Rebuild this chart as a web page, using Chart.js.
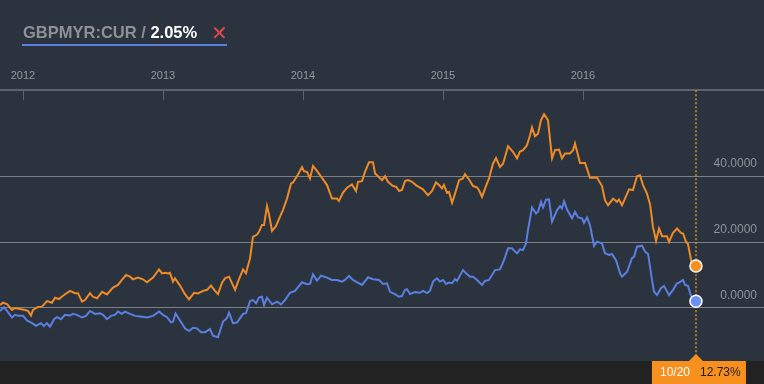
<!DOCTYPE html>
<html>
<head>
<meta charset="utf-8">
<script src="https://cdn.jsdelivr.net/npm/chart.js@4"></script>
<style>
  html, body { margin: 0; padding: 0; background: #2b333e; }
  #wrap { position: relative; width: 764px; height: 384px; }
  #legend {
    position: absolute; left: 22px; top: 23px; width: 205px;
    font: bold 16.5px "Liberation Sans", Arial, sans-serif; line-height: 18px;
    padding-bottom: 3px; border-bottom: 2px solid #5b7fe0; white-space: nowrap;
  }
  #legend .sym { color: #8e9297; padding-left: 1px; }
  #legend .pct { color: #ffffff; }
  #legend .x { color: #e2474b; font: 20px "DejaVu Sans", sans-serif; position: absolute; left: 189px; top: -2px; }
</style>
</head>
<body>
<div id="wrap">
  <canvas id="chart" width="764" height="384"></canvas>
  <div id="legend"><span class="sym">GBPMYR:CUR / </span><span class="pct">2.05%</span><span class="x">✕</span></div>
</div>
<script>
// dates as decimal years, values as % change since start
const mainDates = [2011.836, 2011.857, 2011.886, 2011.922, 2011.943, 2011.979, 2012.015, 2012.036, 2012.057, 2012.072,
  2012.107, 2012.136, 2012.172, 2012.207, 2012.229, 2012.257, 2012.286, 2012.336, 2012.372, 2012.393,
  2012.422, 2012.443, 2012.479, 2012.500, 2012.529, 2012.565, 2012.600, 2012.643, 2012.679, 2012.707,
  2012.736, 2012.765, 2012.786, 2012.822, 2012.857, 2012.886, 2012.929, 2012.972, 2012.993, 2013.015,
  2013.036, 2013.050, 2013.072, 2013.086, 2013.122, 2013.157, 2013.186, 2013.222, 2013.250, 2013.286,
  2013.315, 2013.343, 2013.372, 2013.393, 2013.422, 2013.443, 2013.472, 2013.515, 2013.536, 2013.572,
  2013.593, 2013.622, 2013.643, 2013.672, 2013.686, 2013.707, 2013.722, 2013.743, 2013.757, 2013.779,
  2013.807, 2013.836, 2013.857, 2013.886, 2013.915, 2013.929, 2013.965, 2013.993, 2014.007, 2014.029,
  2014.050, 2014.072, 2014.100, 2014.136, 2014.172, 2014.207, 2014.243, 2014.257, 2014.286, 2014.315,
  2014.350, 2014.379, 2014.393, 2014.422, 2014.443, 2014.472, 2014.500, 2014.515, 2014.536, 2014.565,
  2014.586, 2014.607, 2014.643, 2014.665, 2014.686, 2014.707, 2014.729, 2014.750, 2014.779, 2014.807,
  2014.836, 2014.857, 2014.893, 2014.922, 2014.950, 2014.972, 2014.993, 2015.007, 2015.029, 2015.043,
  2015.065, 2015.086, 2015.115, 2015.143, 2015.157, 2015.186, 2015.215, 2015.243, 2015.257, 2015.279,
  2015.307, 2015.329, 2015.357, 2015.379, 2015.407, 2015.429, 2015.465, 2015.500, 2015.529, 2015.550,
  2015.572, 2015.600, 2015.622, 2015.636, 2015.657, 2015.679, 2015.700, 2015.722, 2015.750, 2015.779,
  2015.800, 2015.829, 2015.850, 2015.872, 2015.907, 2015.929, 2015.943, 2015.979, 2016.015, 2016.050,
  2016.100, 2016.136, 2016.157, 2016.179, 2016.215, 2016.243, 2016.257, 2016.279, 2016.300, 2016.329,
  2016.357, 2016.386, 2016.407, 2016.429, 2016.457, 2016.479, 2016.500, 2016.522, 2016.543, 2016.565,
  2016.600, 2016.615, 2016.643, 2016.672, 2016.700, 2016.715, 2016.736, 2016.750, 2016.779, 2016.807];
const mainChange = [0.9, 1.6, 1.2, -0.6, 0, -0.3, -0.6, -0.9, -2.3, -0.6,
  0.3, 0.4, 2.1, 1.6, 3.1, 2.7, 3.7, 5.2, 4.5, 4.5,
  1.9, 2.4, 4.5, 3.4, 2.9, 4.9, 4.1, 6.2, 7.0, 8.5,
  10.0, 9.5, 8.7, 9.2, 8.7, 7.8, 9.2, 11.7, 10.5, 10.7,
  10.5, 10.7, 8.0, 9.0, 6.8, 4.2, 2.6, 4.6, 4.4, 5.2,
  5.5, 6.8, 5.2, 4.2, 7.7, 9.0, 9.5, 5.5, 8.0, 11.7,
  10.5, 15.1, 21.6, 22.3, 23.1, 25.2, 25.2, 30.9, 28.5, 23.4,
  24.8, 27.7, 29.7, 33.2, 37.8, 38.1, 40.5, 42.8, 41.5, 41.3,
  39.3, 43.1, 41.6, 39.5, 37.3, 33.2, 33.2, 32.5, 35.0, 36.5,
  37.5, 35.5, 38.3, 38.5, 41.3, 44.2, 44.2, 40.8, 40.0, 38.8,
  40.0, 38.3, 37.0, 36.8, 35.5, 35.8, 38.5, 38.8, 38.3, 37.3,
  36.5, 36.0, 34.2, 35.5, 38.1, 37.3, 36.3, 37.3, 34.9, 35.2,
  31.9, 34.7, 38.8, 39.3, 40.6, 39.0, 37.0, 36.6, 35.8, 33.7,
  37.0, 39.3, 43.8, 45.5, 42.8, 43.8, 49.1, 47.4, 45.4, 47.5,
  47.9, 49.4, 52.4, 54.8, 52.1, 52.9, 57.0, 58.8, 57.0, 45.4,
  47.9, 48.1, 45.4, 46.9, 46.9, 47.9, 49.9, 44.0, 44.0, 39.5,
  39.6, 37.0, 32.7, 31.2, 33.2, 32.2, 32.9, 31.2, 33.2, 36.0,
  35.8, 40.0, 40.3, 37.3, 34.7, 31.5, 24.6, 20.4, 24.1, 21.8,
  21.8, 20.1, 22.8, 24.1, 22.8, 22.6, 20.1, 19.4, 13.0, 12.73];

const gbpmyrDates = [2011.836, 2011.865, 2011.886, 2011.922, 2011.943, 2011.965, 2012.000, 2012.029, 2012.065, 2012.093,
  2012.129, 2012.150, 2012.172, 2012.193, 2012.222, 2012.243, 2012.272, 2012.300, 2012.336, 2012.357,
  2012.386, 2012.422, 2012.450, 2012.479, 2012.515, 2012.550, 2012.572, 2012.600, 2012.629, 2012.657,
  2012.679, 2012.707, 2012.729, 2012.765, 2012.800, 2012.836, 2012.886, 2012.929, 2012.972, 2013.000,
  2013.029, 2013.057, 2013.072, 2013.090, 2013.122, 2013.157, 2013.186, 2013.215, 2013.243, 2013.272,
  2013.300, 2013.336, 2013.357, 2013.393, 2013.429, 2013.457, 2013.472, 2013.500, 2013.529, 2013.572,
  2013.593, 2013.622, 2013.643, 2013.665, 2013.686, 2013.707, 2013.722, 2013.743, 2013.779, 2013.815,
  2013.843, 2013.872, 2013.907, 2013.943, 2013.993, 2014.029, 2014.050, 2014.072, 2014.100, 2014.129,
  2014.172, 2014.207, 2014.243, 2014.279, 2014.300, 2014.329, 2014.357, 2014.422, 2014.465, 2014.500,
  2014.543, 2014.572, 2014.600, 2014.622, 2014.657, 2014.686, 2014.707, 2014.729, 2014.743, 2014.765,
  2014.800, 2014.836, 2014.857, 2014.886, 2014.907, 2014.929, 2014.957, 2014.979, 2015.000, 2015.022,
  2015.043, 2015.065, 2015.086, 2015.100, 2015.143, 2015.165, 2015.193, 2015.215, 2015.243, 2015.279,
  2015.300, 2015.329, 2015.372, 2015.407, 2015.436, 2015.465, 2015.493, 2015.515, 2015.529, 2015.550,
  2015.572, 2015.593, 2015.607, 2015.636, 2015.665, 2015.679, 2015.700, 2015.715, 2015.736, 2015.757,
  2015.779, 2015.815, 2015.836, 2015.850, 2015.865, 2015.886, 2015.922, 2015.943, 2015.965, 2015.993,
  2016.007, 2016.029, 2016.050, 2016.079, 2016.100, 2016.136, 2016.157, 2016.186, 2016.207, 2016.236,
  2016.265, 2016.279, 2016.315, 2016.350, 2016.365, 2016.386, 2016.422, 2016.443, 2016.465, 2016.493,
  2016.507, 2016.529, 2016.557, 2016.579, 2016.615, 2016.643, 2016.672, 2016.686, 2016.715, 2016.729,
  2016.750, 2016.772, 2016.807];
const gbpmyrChange = [-0.9, 0.2, -0.9, -2.9, -2.1, -2.4, -2.4, -3.8, -4.6, -5.4,
  -4.6, -5.5, -4.6, -5.7, -3.4, -2.8, -3.4, -2.1, -2.3, -1.8,
  -2.1, -2.9, -2.4, -0.9, -1.8, -1.6, -2.1, -3.4, -2.4, -2.1,
  -1.1, -1.8, -1.1, -1.8, -2.4, -2.6, -2.9, -2.4, -1.1, -2.1,
  -2.8, -4.4, -4.2, -1.7, -3.8, -6.2, -7.0, -6.0, -6.2, -7.4,
  -7.4, -6.4, -8.4, -8.9, -4.1, -3.1, -1.4, -4.6, -4.4, -1.8,
  -1.6, 2.1, 2.4, 1.4, 3.2, 3.4, 0.9, 3.1, 1.1, 1.9,
  1.1, 2.4, 4.6, 5.2, 7.8, 7.2, 7.3, 10.2, 8.3, 9.8,
  9.2, 8.5, 8.5, 8.0, 8.5, 9.7, 8.5, 7.0, 9.3, 8.7,
  8.5, 7.3, 7.5, 4.9, 4.2, 3.4, 3.6, 5.5, 5.7, 4.2,
  4.8, 4.6, 5.2, 4.5, 5.2, 8.0, 9.0, 8.0, 8.5, 7.3,
  7.7, 7.5, 8.8, 8.2, 11.5, 10.5, 9.5, 9.5, 8.5, 7.0,
  8.2, 8.5, 11.5, 11.7, 14.5, 18.1, 18.1, 17.1, 16.6, 17.8,
  17.6, 19.6, 23.6, 30.5, 28.7, 29.2, 32.2, 30.5, 32.9, 33.0,
  26.2, 29.7, 30.9, 30.2, 32.4, 29.9, 27.2, 29.2, 27.5, 27.2,
  25.8, 27.5, 25.2, 18.8, 20.1, 19.6, 16.6, 16.1, 16.4, 14.5,
  10.5, 9.5, 11.0, 15.1, 15.6, 18.6, 18.9, 17.1, 16.4, 8.5,
  5.0, 3.9, 6.0, 6.7, 3.9, 5.5, 7.5, 7.7, 8.5, 7.0,
  6.7, 3.6, 2.05];

const yearTicks = [2012, 2013, 2014, 2015, 2016];
const valueTicks = [0, 20, 40];
const lastDateLabel = '10/20';

const ORANGE = '#ee8b25';
const BLUE = '#5a7fe0';

function pts(xs, ys) { return xs.map((x, i) => ({ x: x, y: ys[i] })); }
function endOnly(n, r) { return ctx => ctx.dataIndex === n - 1 ? r : 0; }

const crosshair = {
  id: 'crosshair',
  beforeDraw(chart) {
    const { ctx, chartArea } = chart;
    ctx.save();
    ctx.fillStyle = '#222222';
    ctx.fillRect(0, chartArea.bottom, chart.width, chart.height - chartArea.bottom);
    ctx.restore();
  },
  beforeDatasetsDraw(chart) {
    const { ctx, chartArea } = chart;
    const xs = chart.scales.x;
    const px = xs.getPixelForValue(mainDates[mainDates.length - 1]);
    ctx.save();
    // year ticks hanging under the top axis
    ctx.strokeStyle = '#5c636b';
    ctx.lineWidth = 1;
    yearTicks.forEach(v => {
      const x = Math.round(xs.getPixelForValue(v)) + 0.5;
      ctx.beginPath(); ctx.moveTo(x, chartArea.top); ctx.lineTo(x, chartArea.top + 10); ctx.stroke();
    });
    ctx.strokeStyle = 'rgba(240,150,40,0.65)';
    ctx.lineWidth = 2;
    ctx.setLineDash([2, 2]);
    ctx.beginPath(); ctx.moveTo(px, chartArea.top); ctx.lineTo(px, chartArea.bottom - 6); ctx.stroke();
    ctx.restore();
  },
  afterDraw(chart) {
    const { ctx, chartArea } = chart;
    const px = chart.scales.x.getPixelForValue(mainDates[mainDates.length - 1]);
    const b = chartArea.bottom;
    ctx.save();
    ctx.fillStyle = '#f7901e';
    ctx.beginPath(); ctx.moveTo(px - 7, b); ctx.lineTo(px, b - 7); ctx.lineTo(px + 7, b); ctx.closePath(); ctx.fill();
    ctx.fillRect(px - 44, b, 94, chart.height - b);
    ctx.font = '12px "Liberation Sans", Arial, sans-serif';
    ctx.textBaseline = 'middle';
    ctx.fillStyle = '#ffffff';
    ctx.fillText(lastDateLabel, px - 36, b + 12);
    ctx.fillStyle = '#1c1c1c';
    ctx.fillText(mainChange[mainChange.length - 1].toFixed(2) + '%', px + 4, b + 12);
    ctx.restore();
  }
};

new Chart(document.getElementById('chart'), {
  type: 'line',
  data: {
    datasets: [{
      label: 'GBPMYR:CUR',
      data: pts(gbpmyrDates, gbpmyrChange),
      borderColor: BLUE,
      borderWidth: 2,
      pointRadius: endOnly(gbpmyrDates.length, 6),
      pointBackgroundColor: '#6b91f5',
      pointBorderColor: '#ffffff',
      pointBorderWidth: 1.5,
      tension: 0
    }, {
      label: 'main',
      data: pts(mainDates, mainChange),
      borderColor: ORANGE,
      borderWidth: 2,
      pointRadius: endOnly(mainDates.length, 6),
      pointBackgroundColor: '#f7901e',
      pointBorderColor: '#ffffff',
      pointBorderWidth: 1.5,
      tension: 0
    }]
  },
  options: {
    responsive: false,
    animation: false,
    layout: { autoPadding: false, padding: { top: 61, bottom: 23, left: 0, right: 0 } },
    plugins: { legend: { display: false }, tooltip: { enabled: false } },
    scales: {
      x: {
        type: 'linear',
        position: 'top',
        min: 2011.836,
        max: 2017.293,
        afterBuildTicks: s => { s.ticks = yearTicks.map(v => ({ value: v })); },
        ticks: {
          padding: 8,
          color: '#94989d',
          font: { family: '"Liberation Sans", Arial, sans-serif', size: 11 },
          callback: v => String(v)
        },
        grid: { drawOnChartArea: false, drawTicks: false },
        border: { display: true, color: '#5c636b', width: 2 }
      },
      y: {
        position: 'right',
        min: -16.1,
        max: 66.1,
        afterBuildTicks: s => { s.ticks = valueTicks.map(v => ({ value: v })); },
        afterFit: s => { s.width = 0; },
        ticks: {
          mirror: true,
          padding: -7,
          labelOffset: -12,
          color: '#8e939a',
          font: { family: '"Liberation Sans", Arial, sans-serif', size: 12 },
          callback: v => v.toFixed(4)
        },
        grid: { color: '#7d8186', lineWidth: 1, drawTicks: false },
        border: { display: false }
      }
    }
  },
  plugins: [crosshair]
});
</script>
</body>
</html>
